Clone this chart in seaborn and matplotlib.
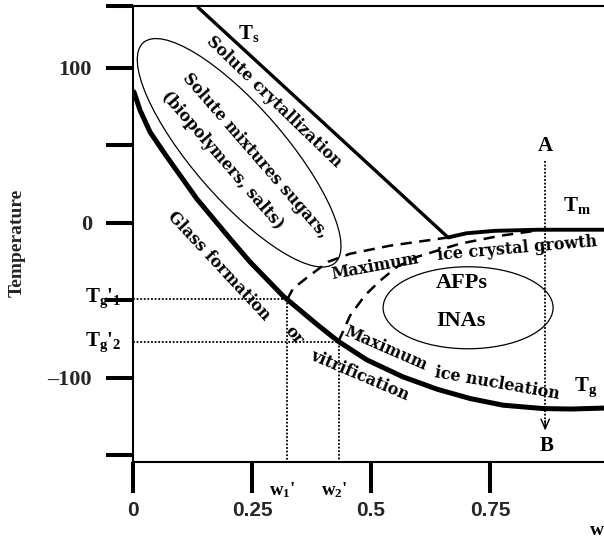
import numpy as np
import pandas as pd
import matplotlib
matplotlib.use("Agg")
import matplotlib.pyplot as plt
import matplotlib.transforms as mtransforms
from matplotlib.patches import Ellipse
import seaborn as sns

# -----------------------------------
# DATA
# -----------------------------------

# glass transition curve Tg
tg_w = [0.002, 0.015, 0.036, 0.068, 0.134, 0.204, 0.245, 0.316, 0.386, 0.431,
        0.491, 0.567, 0.639, 0.708, 0.777, 0.861, 0.92, 1.0]
tg_t = [84.5, 72.5, 58.5, 44, 15.5, -10.3, -25, -47.5, -65.5, -76.5,
        -88.5, -99.5, -107.5, -113.5, -117.8, -120, -120.3, -119.6]

# solute crystallization line Ts
ts_w = [0.137, 0.662]
ts_t = [139.0, -9.5]

# melting curve Tm
tm_w = [0.662, 0.70, 0.76, 0.85, 1.0]
tm_t = [-9.5, -6.8, -5.2, -4.5, -4.5]

# dashed boundaries (max ice crystal growth / max ice nucleation)
d1_w = [0.324, 0.336, 0.368, 0.41, 0.456, 0.54, 0.662]
d1_t = [-49.5, -42.6, -34.8, -25.2, -20, -14.8, -9.5]
d2_w = [0.432, 0.456, 0.487, 0.519, 0.555, 0.597, 0.687, 0.771, 0.845]
d2_t = [-76.5, -60, -47, -37.4, -28.4, -22, -13.5, -8.4, -5.2]

# Tg' / w' points
tg1, tg2 = -49.0, -77.0
w1, w2 = 0.324, 0.432

# A -> B cooling path
ab_w = 0.866
ab_top, ab_bottom = 40, -136

x_ticks = [0, 0.25, 0.5, 0.75, 1.0]
x_tick_labels = ["0", "0.25", "0.5", "0.75", "1"]
y_ticks = [-150, -100, -50, 0, 50, 100, 140]
y_tick_labels = ["", "\u2013100", "", "0", "", "100", ""]

# -----------------------------------
# FIGURE
# -----------------------------------

sns.set_style("white")
plt.rcParams["mathtext.fontset"] = "custom"
plt.rcParams["mathtext.rm"] = "Liberation Serif:bold"
plt.rcParams["mathtext.it"] = "Liberation Serif:bold"
plt.rcParams["mathtext.bf"] = "Liberation Serif:bold"

fig = plt.figure(figsize=(6.04, 5.38), dpi=100)
ax = fig.add_axes([0.2202, 0.1413, 0.8038, 0.8475])

ax.set_xlim(0, 1.02)
ax.set_ylim(-154.5, 140)

ink = "black"
ann = dict(family="DejaVu Serif", fontweight="bold", fontsize=11.5, color=ink,
           ha="center", va="center", rotation_mode="anchor")
serif = dict(family="Liberation Serif", fontweight="bold", color=ink)

sns.lineplot(x=tg_w, y=tg_t, ax=ax, color=ink, lw=3.6)
sns.lineplot(x=ts_w, y=ts_t, ax=ax, color=ink, lw=2.4)
sns.lineplot(x=tm_w, y=tm_t, ax=ax, color=ink, lw=2.8)
sns.lineplot(x=d1_w, y=d1_t, ax=ax, color=ink, lw=1.8)
ax.lines[-1].set_dashes((4.5, 3))
sns.lineplot(x=d2_w, y=d2_t, ax=ax, color=ink, lw=1.8)
ax.lines[-1].set_dashes((4.5, 3))

# dotted guides for Tg' and w'
dot = dict(color=ink, lw=1.3, linestyle=(0, (1, 1)))
ax.plot([0, w1], [tg1, tg1], **dot)
ax.plot([w1, w1], [tg1, -154.5], **dot)
ax.plot([0, w2], [tg2, tg2], **dot)
ax.plot([w2, w2], [tg2, -154.5], **dot)

# A -> B path
ax.plot([ab_w, ab_w], [ab_top, ab_bottom + 4], **dot)
ax.annotate("", xy=(ab_w, ab_bottom), xytext=(ab_w, ab_bottom + 10),
            arrowprops=dict(arrowstyle="->,head_length=0.7,head_width=0.3",
                            lw=1.0, color=ink))

# ellipses (sized in inches so they are not distorted)
big = Ellipse((0, 0), 2.92, 0.92, angle=-49, fill=False, lw=0.9, ec=ink,
              transform=fig.dpi_scale_trans
              + mtransforms.ScaledTranslation(0.223, 45.2, ax.transData))
ax.add_patch(big)
small = Ellipse((0, 0), 1.70, 0.82, angle=0, fill=False, lw=0.9, ec=ink,
                transform=fig.dpi_scale_trans
                + mtransforms.ScaledTranslation(0.704, -54.9, ax.transData))
ax.add_patch(small)

# rotated annotations
ax.text(0.296, 78.2, "Solute crytallization", rotation=-44, **ann)
ax.text(0.256, 43.3, "Solute mixtures sugars,", rotation=-49, **ann)
ax.text(0.188, 40.7, "(biopolymers, salts)", rotation=-49, **ann)
ax.text(0.18, -28.1, "Glass formation", rotation=-47, **ann)
ax.text(0.338, -73, "or", rotation=-50, **ann)
ax.text(0.477, -98.5, "vitrification", rotation=-23, **ann)
ax.text(0.508, -28.1, "Maximum", rotation=10.5, **ann)
ax.text(0.808, -16.5, "ice crystal growth", rotation=5, **ann)
ax.text(0.531, -81.4, "Maximum", rotation=-23.5, **ann)
ax.text(0.764, -104, "ice nucleation", rotation=-10, **ann)

ax.text(0.69, -39, "AFPs", fontsize=16, ha="center", va="center", **serif)
ax.text(0.69, -63.6, "INAs", fontsize=16, ha="center", va="center", **serif)
lab = dict(fontsize=15, ha="center", va="center", **serif)
ax.text(0.244, 122, r"T$_\mathrm{s}$", **lab)
ax.text(0.933, 11, r"T$_\mathrm{m}$", **lab)
ax.text(0.95, -106, r"T$_\mathrm{g}$", **lab)
ax.text(ab_w, 49.7, "A", **lab)
ax.text(ab_w + 0.002, -144, "B", **lab)

# Tg' labels on the left, w' labels below
ytr = mtransforms.blended_transform_factory(ax.transAxes, ax.transData)
ax.text(-0.023, tg1, r"T$_\mathrm{g}$'$_\mathrm{1}$", transform=ytr,
        fontsize=15, ha="right", va="center", **serif)
ax.text(-0.023, tg2, r"T$_\mathrm{g}$'$_\mathrm{2}$", transform=ytr,
        fontsize=15, ha="right", va="center", **serif)
xtr = mtransforms.blended_transform_factory(ax.transData, ax.transAxes)
ax.text(w1 - 0.01, -0.061, r"w$_\mathrm{1}$'", transform=xtr,
        fontsize=13.5, ha="center", va="center", **serif)
ax.text(w2 - 0.01, -0.061, r"w$_\mathrm{2}$'", transform=xtr,
        fontsize=13.5, ha="center", va="center", **serif)
ax.text(0.96, -0.15, "w", transform=xtr, fontsize=14, ha="left",
        va="center", **serif)

# -----------------------------------
# AXES STYLE
# -----------------------------------

ax.set_xticks(x_ticks)
ax.set_xticklabels(x_tick_labels, family="Liberation Sans",
                   fontweight="bold", fontsize=15)
ax.set_yticks(y_ticks)
ax.set_yticklabels(y_tick_labels, family="Liberation Serif",
                   fontweight="bold", fontsize=16)
ax.tick_params(axis="x", direction="out", length=22, width=2.9, pad=6,
               bottom=True, color=ink)
ax.tick_params(axis="y", direction="out", length=19.5, width=2.9, pad=10,
               left=True, color=ink)

for side in ["left", "bottom", "top"]:
    ax.spines[side].set_linewidth(1.5)
    ax.spines[side].set_color(ink)
ax.spines["right"].set_visible(False)

ax.set_ylabel("Temperature", family="Liberation Serif", fontweight="bold",
              fontsize=14)
ax.yaxis.set_label_coords(-0.222, 0.48)

fig.savefig("out.png", dpi=100)
